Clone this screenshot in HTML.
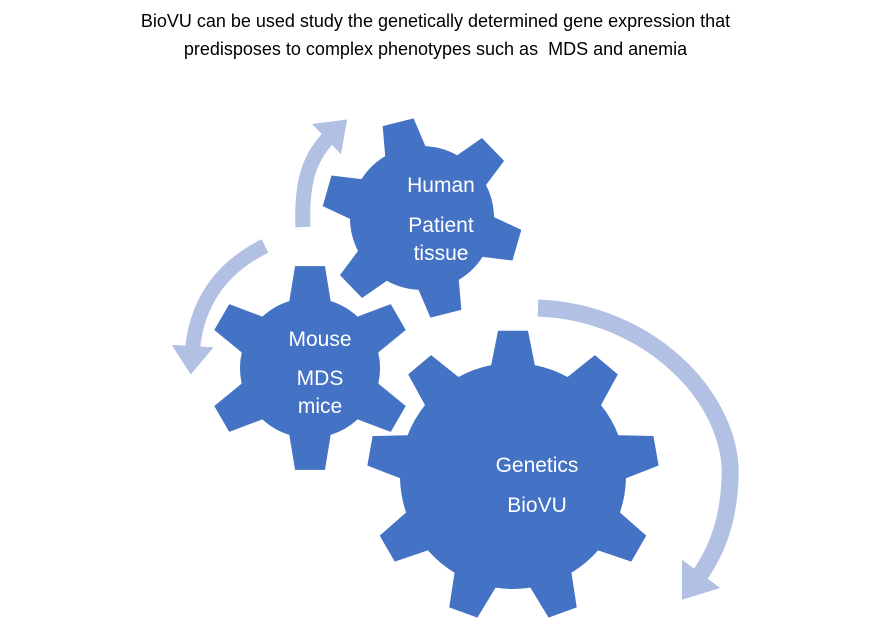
<!DOCTYPE html>
<html><head><meta charset="utf-8"><style>
html,body{margin:0;padding:0;background:#fff;}
body{width:871px;height:636px;overflow:hidden;position:relative;font-family:"Liberation Sans",sans-serif;}
.t{position:absolute;left:0;width:871px;text-align:center;font-size:18px;color:#000;}
</style></head><body>
<div class="t" style="top:11px">BioVU can be used study the genetically determined gene expression that</div>
<div class="t" style="top:39px">predisposes to complex phenotypes such as &nbsp;MDS and anemia</div>
<svg id="s" width="871" height="636" style="position:absolute;left:0;top:0">
<defs>
<marker id="ah" markerWidth="3" markerHeight="3" refX="0.6" refY="1.5" orient="auto" markerUnits="strokeWidth">
<path d="M0,0.1 L1.9,1.5 L0,2.9 Z" fill="#B1C0E3"/>
</marker>
</defs>
<g fill="none" stroke="#B1C0E3" stroke-width="15" marker-end="url(#ah)">
<path d="M303,227 C301,180 310,155 333,133"/>
<path d="M265,246 C220,268 195,305 192,355"/>
<path d="M538,308 C650,312 735,400 730,480 C728,525 715,555 695,582" stroke-width="17"/>
</g>
<g id="gears" fill="#4472C4"></g>
<g fill="#fff" font-family="Liberation Sans, sans-serif" font-size="21" text-anchor="middle">
<text x="441" y="192">Human</text>
<text x="441" y="232">Patient</text>
<text x="441" y="260">tissue</text>
<text x="320" y="346">Mouse</text>
<text x="320" y="385">MDS</text>
<text x="320" y="413">mice</text>
<text x="537" y="472">Genetics</text>
<text x="537" y="512">BioVU</text>
</g>
</svg>
<script>
function gear(cx,cy,rb,ro,n,a0,baseHalf,tipHalf){
  var d="",pts=[];
  for(var i=0;i<n;i++){
    var a=(a0+i*360/n)*Math.PI/180;
    var bh=baseHalf/rb, th=tipHalf/ro;
    pts.push([a-bh,rb]);pts.push([a-th,ro]);pts.push([a+th,ro]);pts.push([a+bh,rb]);
  }
  for(var j=0;j<pts.length;j++){
    var p=pts[j],x=cx+p[1]*Math.cos(p[0]),y=cy+p[1]*Math.sin(p[0]);
    if(j==0)d+="M"+x+","+y;
    else if(j%4==0)d+="A"+rb+","+rb+" 0 0 1 "+x+","+y;
    else d+="L"+x+","+y;
  }
  var p=pts[0];d+="A"+rb+","+rb+" 0 0 1 "+(cx+rb*Math.cos(p[0]))+","+(cy+rb*Math.sin(p[0]))+"Z";
  var e=document.createElementNS("http://www.w3.org/2000/svg","path");
  e.setAttribute("d",d);document.getElementById("gears").appendChild(e);
}
gear(422,218,72,100,6,-104,21,16);
gear(310,368,70,103,6,-90,21,15);
gear(513,476,113,146,9,-90,22,15);
</script>
</body></html>
